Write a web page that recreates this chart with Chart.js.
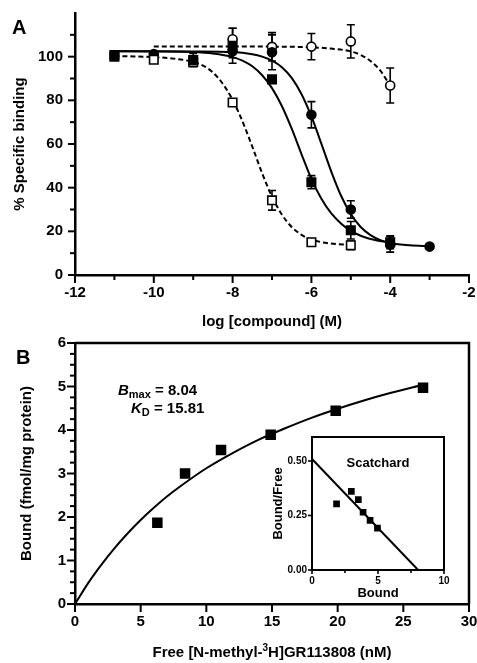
<!DOCTYPE html>
<html>
<head>
<meta charset="utf-8">
<script src="https://cdn.jsdelivr.net/npm/chart.js@4/dist/chart.umd.min.js"></script>
<style>
  html, body { margin: 0; padding: 0; background: #fff; }
  #wrap { position: relative; width: 477px; height: 663px; }
  canvas { position: absolute; }
  #cA { left: 0; top: 0; }
  #cB { left: 0; top: 335px; }
  #cS { left: 262px; top: 425px; }
</style>
</head>
<body>
<div id="wrap">
  <canvas id="cA" width="477" height="335"></canvas>
  <canvas id="cB" width="477" height="328"></canvas>
  <canvas id="cS" width="195" height="180"></canvas>
</div>
<script>
/* ---------- Panel A: competition binding (log M vs % specific binding) ---------- */
const openSqX  = [-11, -10, -9, -8, -7, -6, -5];
const openSqY  = [100, 98.6, 97.5, 79, 34.2, 15, 13.6];
const openSqE  = [0, 1.5, 2, 1.5, 4.5, 1, 2];

const fillSqX  = [-11, -9, -8, -7, -6, -5, -4];
const fillSqY  = [100.8, 98.5, 105, 89.6, 42.5, 20.5, 15];
const fillSqE  = [1, 3, 8, 1.5, 3, 4, 3];

const fillCiX  = [-10, -8, -7, -6, -5, -4, -3];
const fillCiY  = [101.2, 102.5, 102, 73.4, 30, 14, 13];
const fillCiE  = [1, 3, 8, 6, 4, 3.5, 0];

const openCiX  = [-8, -7, -6, -5, -4];
const openCiY  = [108, 104.5, 104.6, 107, 86.8];
const openCiE  = [5, 6.5, 6, 7.6, 8];

// fitted curves
const osCurveX = [-11, -10.5, -10, -9.5, -9, -8.75, -8.5, -8.25, -8, -7.75, -7.5, -7.25, -7, -6.75, -6.5, -6.25, -6, -5.5, -5];
const osCurveY = [100.3, 100.1, 99.8, 99.1, 97.6, 95.9, 92.8, 87.6, 80.2, 70.4, 58.8, 46.6, 35.9, 27.7, 22.0, 18.4, 16.2, 14.4, 13.8];
const fsCurveX = [-11, -10, -9, -8.5, -8, -7.75, -7.5, -7.25, -7, -6.75, -6.5, -6.25, -6, -5.75, -5.5, -5.25, -5, -4.75, -4.5, -4];
const fsCurveY = [102.5, 102.4, 102.1, 101.4, 99.8, 98.2, 95.6, 91.5, 85.6, 77.4, 67.0, 55.3, 44.0, 35.0, 28.3, 23.6, 20.2, 18.0, 16.5, 14.8];
const fcCurveX = [-11, -10, -9, -8, -7.5, -7.25, -7, -6.75, -6.5, -6.25, -6, -5.75, -5.5, -5.25, -5, -4.75, -4.5, -4.25, -4, -3.5, -3];
const fcCurveY = [102.5, 102.5, 102.4, 102.1, 101.1, 100.0, 98.2, 95.2, 90.3, 82.8, 72.6, 60.3, 47.6, 36.4, 27.9, 22.0, 18.3, 16.0, 14.7, 13.6, 13.2];
const ocCurveX = [-10, -9, -8, -7, -6, -5.5, -5, -4.75, -4.5, -4.25, -4];
const ocCurveY = [104.7, 104.7, 104.7, 104.6, 104.3, 103.7, 102.4, 100.8, 98.0, 93.6, 86.6];

const aMajorX = [-12, -10, -8, -6, -4, -2];
const aMinorX = [-11, -9, -7, -5, -3];
const aMajorY = [0, 20, 40, 60, 80, 100];
const aMinorY = [10, 30, 50, 70, 90, 110];

/* ---------- Panel B: saturation binding ---------- */
const freeNM     = [6.27, 8.38, 11.12, 14.9, 19.85, 26.5];
const boundFmol  = [1.87, 3.0, 3.54, 3.89, 4.44, 4.97];
const fitFreeNM  = [0, 1, 2, 3, 4, 5, 6, 7, 8, 10, 12, 14, 16, 18, 20, 22, 24, 26.5];
const fitBound   = [0, 0.48, 0.90, 1.28, 1.62, 1.93, 2.21, 2.47, 2.70, 3.12, 3.47, 3.78, 4.04, 4.28, 4.49, 4.68, 4.85, 5.04];
const bMajorX = [0, 5, 10, 15, 20, 25, 30];
const bMajorY = [0, 1, 2, 3, 4, 5, 6];
const bMinorY = [0.25, 0.5, 0.75, 1.25, 1.5, 1.75, 2.25, 2.5, 2.75, 3.25, 3.5, 3.75, 4.25, 4.5, 4.75, 5.25, 5.5, 5.75];

/* ---------- Inset: Scatchard ---------- */
const scBound  = [1.86, 2.98, 3.51, 3.87, 4.4, 4.96];
const scRatio  = [0.303, 0.361, 0.323, 0.265, 0.228, 0.192];
const scLineX  = [0, 8.04];
const scLineY  = [0.509, 0];
const sMajorX = [0, 5, 10];
const sMinorX = [2.5, 7.5];
const sMajorY = [0, 0.25, 0.5];

const FONT = "'Liberation Sans', Arial, sans-serif";
const BLACK = '#000';

const xy = (xs, ys) => xs.map((x, i) => ({ x, y: ys[i] }));

// tick marks drawn by hand so major/minor can differ in length
const tickMarks = {
  id: 'tickMarks',
  afterDraw(chart, args, opts) {
    const ctx = chart.ctx;
    ctx.save();
    ctx.strokeStyle = BLACK;
    ctx.lineWidth = opts.width || 2;
    (opts.marks || []).forEach(m => {
      const sc = chart.scales[m.axis];
      m.values.forEach(v => {
        const p = sc.getPixelForValue(v);
        ctx.beginPath();
        if (m.axis === 'x') { ctx.moveTo(p, sc.top); ctx.lineTo(p, sc.top + m.len); }
        else { ctx.moveTo(sc.right, p); ctx.lineTo(sc.right - m.len, p); }
        ctx.stroke();
      });
    });
    ctx.restore();
  }
};

const errorBars = {
  id: 'errorBars',
  beforeDatasetsDraw(chart) {
    const ctx = chart.ctx, xs = chart.scales.x, ys = chart.scales.y;
    ctx.save();
    ctx.strokeStyle = BLACK;
    ctx.lineWidth = 1.6;
    chart.data.datasets.forEach(ds => {
      if (!ds.errors) return;
      ds.data.forEach((p, i) => {
        const e = ds.errors[i];
        if (!e) return;
        const x = xs.getPixelForValue(p.x);
        const y1 = ys.getPixelForValue(p.y + e), y2 = ys.getPixelForValue(p.y - e);
        ctx.beginPath();
        ctx.moveTo(x, y1); ctx.lineTo(x, y2);
        ctx.moveTo(x - 4, y1); ctx.lineTo(x + 4, y1);
        ctx.moveTo(x - 4, y2); ctx.lineTo(x + 4, y2);
        ctx.stroke();
      });
    });
    ctx.restore();
  }
};

// top + right lines of a boxed plot
const frame = {
  id: 'frame',
  afterDraw(chart, args, opts) {
    if (!opts.width) return;
    const { ctx, chartArea: a } = chart;
    ctx.save();
    ctx.strokeStyle = BLACK;
    ctx.lineWidth = opts.width;
    ctx.beginPath();
    ctx.moveTo(a.left, a.top); ctx.lineTo(a.right, a.top); ctx.lineTo(a.right, a.bottom);
    ctx.stroke();
    ctx.restore();
  }
};

// free text: each item is a run of segments (font, vertical shift)
const texts = {
  id: 'texts',
  afterDraw(chart, args, opts) {
    const ctx = chart.ctx;
    ctx.save();
    ctx.fillStyle = BLACK;
    ctx.textBaseline = 'alphabetic';
    (opts.items || []).forEach(it => {
      let x = it.x;
      if (it.align === 'center') {
        let w = 0;
        it.segs.forEach(s => { ctx.font = s.f; w += ctx.measureText(s.t).width; });
        x -= w / 2;
      }
      it.segs.forEach(s => {
        ctx.font = s.f;
        ctx.fillText(s.t, x, it.y + (s.dy || 0));
        x += ctx.measureText(s.t).width;
      });
    });
    ctx.restore();
  }
};

const tickFont = { family: FONT, size: 15, weight: 'bold' };
const titleFont = { family: FONT, size: 15, weight: 'bold' };

// fixed axis box; drop the label overhang padding so the plot area stays put
const fixX = h => s => { s.height = h; s.paddingLeft = 0; s.paddingRight = 0; };
const fixY = w => s => { s.width = w; s.paddingTop = 0; s.paddingBottom = 0; };

function baseScale(extra) {
  return Object.assign({
    type: 'linear',
    grid: { display: false, drawTicks: false },
    border: { display: true, color: BLACK, width: 2.5 },
  }, extra);
}

function pointSet(xs, ys, errs, style, filled, r, order) {
  return {
    type: 'scatter', data: xy(xs, ys), errors: errs,
    pointStyle: style, pointRadius: r, pointHoverRadius: r,
    pointBackgroundColor: filled ? BLACK : '#fff',
    pointBorderColor: BLACK, pointBorderWidth: 1.6,
    showLine: false, order
  };
}

function curveSet(xs, ys, dashed) {
  return {
    type: 'line', data: xy(xs, ys),
    borderColor: BLACK, borderWidth: 2, borderDash: dashed ? [5, 3] : [],
    pointRadius: 0, fill: false, cubicInterpolationMode: 'monotone', order: 10
  };
}

/* ---- Chart A ---- */
new Chart(document.getElementById('cA'), {
  type: 'scatter',
  data: {
    datasets: [
      curveSet(osCurveX, osCurveY, true),
      curveSet(fsCurveX, fsCurveY, false),
      curveSet(fcCurveX, fcCurveY, false),
      curveSet(ocCurveX, ocCurveY, true),
      pointSet(fillSqX, fillSqY, fillSqE, 'rect', true, 6, 0),
      pointSet(openSqX, openSqY, openSqE, 'rect', false, 6, 1),
      pointSet(fillCiX, fillCiY, fillCiE, 'circle', true, 4.5, 2),
      pointSet(openCiX, openCiY, openCiE, 'circle', false, 4.5, 3)
    ]
  },
  plugins: [errorBars, tickMarks, frame, texts],
  options: {
    responsive: false, animation: false, devicePixelRatio: 1,
    layout: { padding: { left: 0, right: 8, top: 13, bottom: 0 } },
    plugins: {
      legend: { display: false }, tooltip: { enabled: false },
      tickMarks: { width: 2, marks: [
        { axis: 'x', values: aMajorX, len: 8 }, { axis: 'x', values: aMinorX, len: 5 },
        { axis: 'y', values: aMajorY, len: 7 }, { axis: 'y', values: aMinorY, len: 5 }
      ] },
      texts: { items: [ { x: 12, y: 34, segs: [{ t: 'A', f: `bold 20px ${FONT}` }] } ] }
    },
    scales: {
      x: baseScale({
        min: -12, max: -2,
        afterFit: fixX(60),
        ticks: { stepSize: 1, autoSkip: false, maxRotation: 0, padding: 9, color: BLACK, font: tickFont,
                 callback: v => (v % 2 === 0 ? String(v) : '') },
        title: { display: true, text: 'log [compound] (M)', color: BLACK, font: titleFont, padding: { top: 0, bottom: 4 } }
      }),
      y: baseScale({
        min: 0, max: 120,
        afterFit: fixY(75),
        ticks: { stepSize: 10, autoSkip: false, padding: 12, color: BLACK, font: tickFont,
                 callback: v => (v % 20 === 0 && v <= 100 ? String(v) : '') },
        title: { display: true, text: '% Specific binding', color: BLACK, font: titleFont, padding: { top: 11, bottom: 0 } }
      })
    }
  }
});

/* ---- Chart B ---- */
new Chart(document.getElementById('cB'), {
  type: 'scatter',
  data: {
    datasets: [
      curveSet(fitFreeNM, fitBound, false),
      pointSet(freeNM, boundFmol, null, 'rect', true, 6.3, 0)
    ]
  },
  plugins: [tickMarks, frame, texts],
  options: {
    responsive: false, animation: false, devicePixelRatio: 1,
    layout: { padding: { left: 0, right: 8, top: 8, bottom: 0 } },
    plugins: {
      legend: { display: false }, tooltip: { enabled: false },
      frame: { width: 2.5 },
      tickMarks: { width: 2, marks: [
        { axis: 'x', values: bMajorX, len: 8 },
        { axis: 'y', values: bMajorY, len: 8 }, { axis: 'y', values: bMinorY, len: 5 }
      ] },
      texts: { items: [
        { x: 16, y: 29, segs: [{ t: 'B', f: `bold 20px ${FONT}` }] },
        { x: 118, y: 60, segs: [
          { t: 'B', f: `italic bold 15px ${FONT}` },
          { t: 'max', f: `bold 11px ${FONT}`, dy: 3 },
          { t: ' = 8.04', f: `bold 15px ${FONT}` } ] },
        { x: 131, y: 78, segs: [
          { t: 'K', f: `italic bold 15px ${FONT}` },
          { t: 'D', f: `bold 11px ${FONT}`, dy: 3 },
          { t: ' = 15.81', f: `bold 15px ${FONT}` } ] },
        // x-axis title, drawn here so the ³ can be a proper superscript
        { x: 272, y: 322, align: 'center', segs: [
          { t: 'Free [N-methyl-', f: `bold 15px ${FONT}` },
          { t: '3', f: `bold 10px ${FONT}`, dy: -6 },
          { t: 'H]GR113808 (nM)', f: `bold 15px ${FONT}` } ] }
      ] }
    },
    scales: {
      x: baseScale({
        min: 0, max: 30,
        afterFit: fixX(59),
        ticks: { stepSize: 5, autoSkip: false, maxRotation: 0, padding: 9, color: BLACK, font: tickFont },
        title: { display: false }
      }),
      y: baseScale({
        min: 0, max: 6,
        afterFit: fixY(75),
        ticks: { stepSize: 1, autoSkip: false, padding: 9, color: BLACK, font: tickFont },
        title: { display: true, text: 'Bound (fmol/mg protein)', color: BLACK, font: titleFont, padding: { top: 18, bottom: 0 } }
      })
    }
  }
});

/* ---- Inset: Scatchard ---- */
const smallTick = { family: FONT, size: 10, weight: 'bold' };
const smallTitle = { family: FONT, size: 13, weight: 'bold' };
new Chart(document.getElementById('cS'), {
  type: 'scatter',
  data: {
    datasets: [
      { type: 'line', data: xy(scLineX, scLineY), borderColor: BLACK, borderWidth: 2, pointRadius: 0, fill: false, order: 10 },
      pointSet(scBound, scRatio, null, 'rect', true, 3.6, 0)
    ]
  },
  plugins: [tickMarks, frame, texts],
  options: {
    responsive: false, animation: false, devicePixelRatio: 1,
    layout: { padding: { left: 0, right: 13, top: 12, bottom: 0 } },
    plugins: {
      legend: { display: false }, tooltip: { enabled: false },
      frame: { width: 2 },
      tickMarks: { width: 1.6, marks: [
        { axis: 'x', values: sMajorX, len: 4 }, { axis: 'x', values: sMinorX, len: 3 },
        { axis: 'y', values: sMajorY, len: 4 }
      ] },
      texts: { items: [ { x: 116, y: 42, align: 'center', segs: [{ t: 'Scatchard', f: `bold 13px ${FONT}` }] } ] }
    },
    scales: {
      x: baseScale({
        min: 0, max: 10,
        border: { display: true, color: BLACK, width: 2 },
        afterFit: fixX(35),
        ticks: { stepSize: 5, autoSkip: false, maxRotation: 0, padding: 5, color: BLACK, font: smallTick },
        title: { display: true, text: 'Bound', color: BLACK, font: smallTitle, padding: { top: 0, bottom: 4 } }
      }),
      y: baseScale({
        min: 0, max: 0.61,
        border: { display: true, color: BLACK, width: 2 },
        afterFit: fixY(50),
        ticks: { stepSize: 0.25, autoSkip: false, padding: 5, color: BLACK, font: smallTick,
                 callback: v => (sMajorY.includes(v) ? v.toFixed(2) : '') },
        title: { display: true, text: 'Bound/Free', color: BLACK, font: smallTitle, padding: { top: 9, bottom: 0 } }
      })
    }
  }
});
</script>
</body>
</html>
